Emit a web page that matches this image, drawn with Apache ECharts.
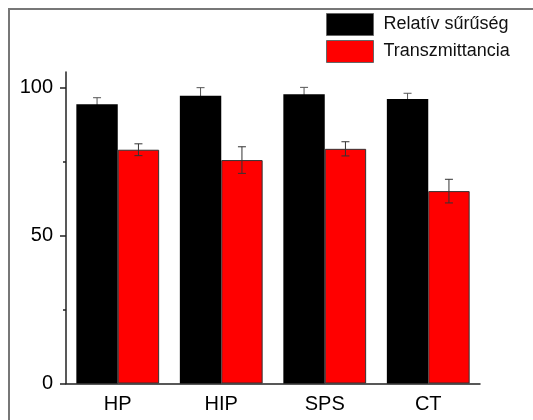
<!DOCTYPE html>
<html>
<head>
<meta charset="utf-8">
<script src="https://cdn.jsdelivr.net/npm/echarts@6/dist/echarts.min.js"></script>
<style>
  html, body {margin: 0; padding: 0; background: #fff;}
  #chart {width: 533px; height: 420px;}
</style>
</head>
<body>
<div id="chart"></div>
<script>
var categories = ['HP', 'HIP', 'SPS', 'CT'];
var densityName = 'Relatív sűrűség';
var transName = 'Transzmittancia';
var density = [94.5, 97.4, 97.9, 96.3];
var densityErr = [2.2, 2.7, 2.3, 1.9];
var trans = [79.1, 75.6, 79.4, 65.1];
var transErr = [2.0, 4.5, 2.4, 4.0];
var yTicks = [0, 50, 100];
var yMinorTicks = [25, 75];

// error bar series, side = -1 for left bar, +1 for right bar
function errorSeries(name, values, errs, side, color, z) {
    var data = values.map(function (v, i) { return [i, v, errs[i]]; });
    return {
        type: 'custom',
        name: name + ' err',
        z: z,
        data: data,
        renderItem: function (params, api) {
            var c = api.coord([api.value(0), api.value(1)]);
            var band = api.size([1, 0])[0];
            var x = c[0] + side * band * 0.2;
            var hi = api.coord([api.value(0), api.value(1) + api.value(2)])[1];
            var lo = api.coord([api.value(0), api.value(1) - api.value(2)])[1];
            var cap = 4;
            var st = {stroke: color, lineWidth: 1};
            return {
                type: 'group',
                children: [
                    {type: 'line', shape: {x1: x, y1: hi, x2: x, y2: lo}, style: st},
                    {type: 'line', shape: {x1: x - cap, y1: hi, x2: x + cap, y2: hi}, style: st},
                    {type: 'line', shape: {x1: x - cap, y1: lo, x2: x + cap, y2: lo}, style: st}
                ]
            };
        }
    };
}

var chart = echarts.init(document.getElementById('chart'));
var axisColor = '#222';
chart.setOption({
    animation: false,
    backgroundColor: '#fff',
    textStyle: {fontFamily: 'Liberation Sans, Arial, sans-serif'},
    graphic: [
        {type: 'rect', shape: {x: 9, y: 9, width: 700, height: 700},
            style: {fill: 'none', stroke: '#777', lineWidth: 2}}
    ],
    legend: {
        orient: 'vertical',
        left: 326, top: 13, padding: 0,
        itemWidth: 47, itemHeight: 22, itemGap: 4,
        icon: 'rect',
        itemStyle: {borderColor: '#666', borderWidth: 1},
        textStyle: {fontSize: 18, color: '#111', padding: [0, 0, 0, 5]},
        data: [densityName, transName]
    },
    grid: {left: 66, right: 53, top: 72, bottom: 36.5},
    xAxis: [
        {
            type: 'category', data: categories,
            axisLine: {lineStyle: {color: axisColor, width: 1.5}},
            axisTick: {alignWithLabel: true, length: 6, lineStyle: {color: axisColor, width: 1.5}},
            axisLabel: {fontSize: 20, color: '#000', margin: 11}
        },
        {
            type: 'category', data: categories, position: 'bottom',
            axisLine: {show: false},
            axisTick: {length: 3, lineStyle: {color: axisColor, width: 1.5}},
            axisLabel: {show: false}
        }
    ],
    yAxis: [
        {
            type: 'value', min: 0, max: 105.4,
            splitLine: {show: false},
            axisLine: {show: true, lineStyle: {color: axisColor, width: 1.5}},
            axisTick: {show: true, length: 6, customValues: yTicks, lineStyle: {color: axisColor, width: 1.5}},
            axisLabel: {fontSize: 20, color: '#000', margin: 13, customValues: yTicks}
        },
        {
            type: 'value', min: 0, max: 105.4, position: 'left',
            splitLine: {show: false},
            axisLine: {show: false},
            axisTick: {show: true, length: 3, customValues: yMinorTicks, lineStyle: {color: axisColor, width: 1.5}},
            axisLabel: {show: false}
        }
    ],
    series: [
        {
            type: 'bar', name: densityName, data: density, z: 2,
            barGap: '0%', barCategoryGap: '20%',
            itemStyle: {color: '#000'}
        },
        {
            type: 'bar', name: transName, data: trans, z: 2,
            itemStyle: {color: '#ff0000', borderColor: '#333', borderWidth: 1}
        },
        errorSeries(densityName, density, densityErr, -1, '#555', 1),
        errorSeries(transName, trans, transErr, 1, '#333', 5)
    ]
});
</script>
</body>
</html>
